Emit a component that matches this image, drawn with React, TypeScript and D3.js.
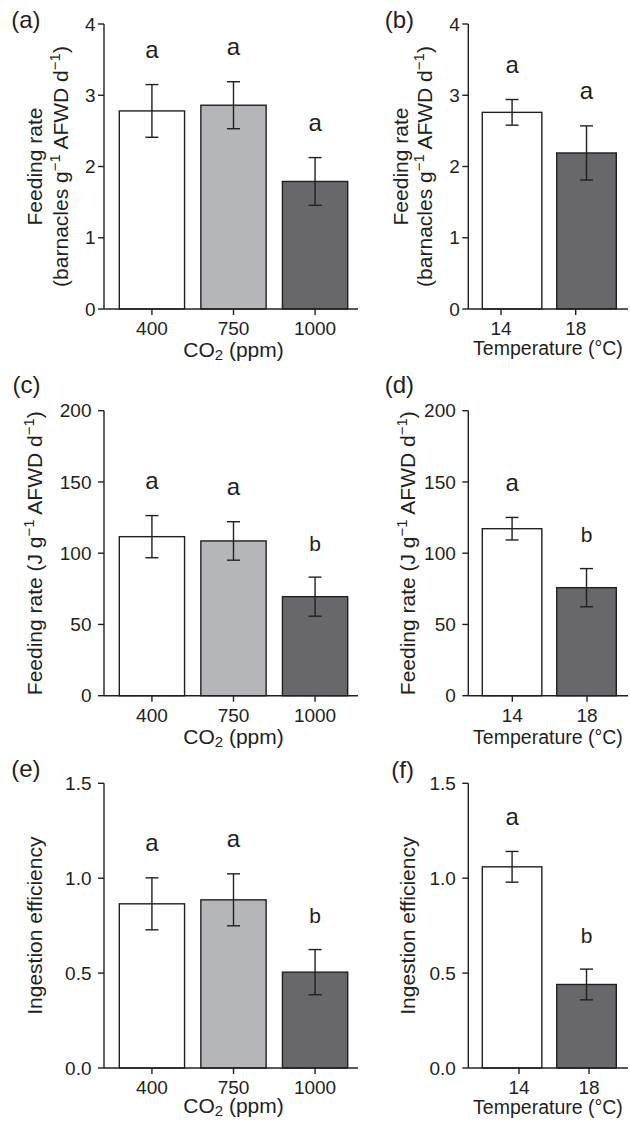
import React from 'react';
import * as d3 from 'd3';

// categories
const co2Levels = ['400', '750', '1000'];
const tempLevels = ['14', '18'];

// (a) feeding rate, barnacles g-1 AFWD d-1
const barnCO2Mean = [2.78, 2.86, 1.79];
const barnCO2Se = [0.37, 0.33, 0.335];
const barnCO2Sig = ['a', 'a', 'a'];
// (b)
const barnTempMean = [2.76, 2.19];
const barnTempSe = [0.18, 0.38];
const barnTempSig = ['a', 'a'];
// (c) feeding rate, J g-1 AFWD d-1
const joulesCO2Mean = [111.6, 108.6, 69.5];
const joulesCO2Se = [14.8, 13.5, 13.7];
const joulesCO2Sig = ['a', 'a', 'b'];
// (d)
const joulesTempMean = [117.2, 75.8];
const joulesTempSe = [7.9, 13.4];
const joulesTempSig = ['a', 'b'];
// (e) ingestion efficiency
const ingestCO2Mean = [0.865, 0.886, 0.505];
const ingestCO2Se = [0.137, 0.137, 0.119];
const ingestCO2Sig = ['a', 'a', 'b'];
// (f)
const ingestTempMean = [1.06, 0.44];
const ingestTempSe = [0.081, 0.081];
const ingestTempSig = ['a', 'b'];

const barnTicks = [0, 1, 2, 3, 4];
const joulesTicks = [0, 50, 100, 150, 200];
const ingestTicks = [0, 0.5, 1.0, 1.5];

const co2Fills = ['#ffffff', '#b5b6b9', '#68676c'];
const tempFills = ['#ffffff', '#68676c'];

// axis label pieces, s = superscript
const barnLabel1 = [{ t: 'Feeding rate' }];
const barnLabel2 = [{ t: '(barnacles g' }, { t: '\u22121', s: true }, { t: ' AFWD d' }, { t: '\u22121', s: true }, { t: ')' }];
const joulesLabel = [{ t: 'Feeding rate (J g' }, { t: '\u22121', s: true }, { t: ' AFWD d' }, { t: '\u22121', s: true }, { t: ')' }];
const ingestLabel = [{ t: 'Ingestion efficiency' }];

const INK = '#231f20';
const FONT = '"Liberation Sans", Arial, Helvetica, sans-serif';

const cols = [
    { axisX: 104, axisEnd: 358, bars: [119.3, 347.7], tagX: 40.5, titleX: 233.5 },
    { axisX: 468.3, axisEnd: 628, bars: [482.3, 616.3], tagX: 414, titleX: 548 },
];
const rows = [
    { top: 24, bottom: 309, tickGap: 8.5 },
    { top: 410.7, bottom: 695.7, tickGap: 12.5 },
    { top: 783.3, bottom: 1068, tickGap: 12.5 },
];

const panels = [
    {
        tag: '(a)', row: 0, col: 0, cats: co2Levels, mean: barnCO2Mean, se: barnCO2Se, sig: barnCO2Sig,
        fills: co2Fills, domain: [0, 4], ticks: barnTicks, fmt: (d) => String(d),
        tagY: 28, titleY: 357, co2: true,
        ylab: [{ x: 34, parts: barnLabel1 }, { x: 60, parts: barnLabel2 }],
    },
    {
        tag: '(b)', row: 0, col: 1, cats: tempLevels, mean: barnTempMean, se: barnTempSe, sig: barnTempSig,
        fills: tempFills, domain: [0, 4], ticks: barnTicks, fmt: (d) => String(d), tickRange: [501, 575.7],
        tagY: 28, titleY: 355,
        ylab: [{ x: 400, parts: barnLabel1 }, { x: 424, parts: barnLabel2 }],
    },
    {
        tag: '(c)', row: 1, col: 0, cats: co2Levels, mean: joulesCO2Mean, se: joulesCO2Se, sig: joulesCO2Sig,
        fills: co2Fills, domain: [0, 200], ticks: joulesTicks, fmt: (d) => String(d),
        tagY: 393, titleY: 744, co2: true,
        ylab: [{ x: 34, parts: joulesLabel }],
    },
    {
        tag: '(d)', row: 1, col: 1, cats: tempLevels, mean: joulesTempMean, se: joulesTempSe, sig: joulesTempSig,
        fills: tempFills, domain: [0, 200], ticks: joulesTicks, fmt: (d) => String(d), tickRange: [512.3, 587],
        tagY: 393, titleY: 744,
        ylab: [{ x: 407, parts: joulesLabel }],
    },
    {
        tag: '(e)', row: 2, col: 0, cats: co2Levels, mean: ingestCO2Mean, se: ingestCO2Se, sig: ingestCO2Sig,
        fills: co2Fills, domain: [0, 1.5], ticks: ingestTicks, fmt: d3.format('.1f'),
        tagY: 777, titleY: 1113, co2: true,
        ylab: [{ x: 34, parts: ingestLabel }],
    },
    {
        tag: '(f)', row: 2, col: 1, cats: tempLevels, mean: ingestTempMean, se: ingestTempSe, sig: ingestTempSig,
        fills: tempFills, domain: [0, 1.5], ticks: ingestTicks, fmt: d3.format('.1f'), tickRange: [519, 589],
        tagY: 778, titleY: 1114,
        ylab: [{ x: 407, parts: ingestLabel }],
    },
];

function Label({ parts }) {
    // superscripts raised with dy, next piece drops back
    return parts.map((p, i) => {
        const prevSup = i > 0 && parts[i - 1].s;
        const dy = p.s ? -6 : prevSup ? 6 : undefined;
        return (
            <tspan key={i} dy={dy} fontSize={p.s ? 15 : undefined}>{p.t}</tspan>
        );
    });
}

function Panel({ p }) {
    const c = cols[p.col];
    const r = rows[p.row];
    const x = d3.scaleBand().domain(p.cats).range(c.bars).paddingInner(0.2).paddingOuter(0);
    const y = d3.scaleLinear().domain(p.domain).range([r.bottom, r.top]);
    const tx = p.tickRange
        ? d3.scalePoint().domain(p.cats).range(p.tickRange)
        : (d) => x(d) + x.bandwidth() / 2;
    const midY = (r.top + r.bottom) / 2;
    const cap = 6.5;

    return (
        <g>
            <text x={c.tagX} y={p.tagY} textAnchor="end" fontSize={24}>{p.tag}</text>

            {p.ylab.map((l, i) => (
                <text key={i} transform={`translate(${l.x},${midY}) rotate(-90)`}
                    textAnchor="middle" dominantBaseline="central" fontSize={21}>
                    <Label parts={l.parts} />
                </text>
            ))}

            {p.cats.map((k, i) => {
                const cx = x(k) + x.bandwidth() / 2;
                const hi = y(p.mean[i] + p.se[i]);
                const lo = y(p.mean[i] - p.se[i]);
                return (
                    <g key={k}>
                        <rect x={x(k)} y={y(p.mean[i])} width={x.bandwidth()} height={y(0) - y(p.mean[i])}
                            fill={p.fills[i]} stroke={INK} strokeWidth={1.4} />
                        <line x1={cx} x2={cx} y1={hi} y2={lo} stroke={INK} strokeWidth={1.4} />
                        <line x1={cx - cap} x2={cx + cap} y1={hi} y2={hi} stroke={INK} strokeWidth={1.4} />
                        <line x1={cx - cap} x2={cx + cap} y1={lo} y2={lo} stroke={INK} strokeWidth={1.4} />
                        <text x={cx} y={hi - 26.5} textAnchor="middle"
                            fontSize={p.sig[i] === 'a' ? 24 : 21}>{p.sig[i]}</text>
                    </g>
                );
            })}

            {/* y axis */}
            <line x1={c.axisX} x2={c.axisX} y1={r.top} y2={r.bottom} stroke={INK} strokeWidth={1.4} />
            {p.ticks.map((t) => (
                <g key={t}>
                    <line x1={c.axisX - 6} x2={c.axisX} y1={y(t)} y2={y(t)} stroke={INK} strokeWidth={1.4} />
                    <text x={c.axisX - r.tickGap} y={y(t)} dy="0.35em" textAnchor="end" fontSize={19}>{p.fmt(t)}</text>
                </g>
            ))}

            {/* x axis */}
            <line x1={c.axisX} x2={c.axisEnd} y1={r.bottom} y2={r.bottom} stroke={INK} strokeWidth={1.4} />
            {p.cats.map((k) => (
                <g key={k}>
                    <line x1={tx(k)} x2={tx(k)} y1={r.bottom} y2={r.bottom + 6} stroke={INK} strokeWidth={1.4} />
                    <text x={tx(k)} y={r.bottom + 26} textAnchor="middle" fontSize={19}>{k}</text>
                </g>
            ))}
            {p.co2 ? (
                <text x={c.titleX} y={p.titleY} textAnchor="middle" fontSize={21}>
                    <tspan>CO</tspan>
                    <tspan fontSize={15} dy={3}>2</tspan>
                    <tspan dy={-3}> (ppm)</tspan>
                </text>
            ) : (
                <text x={c.titleX} y={p.titleY} textAnchor="middle" fontSize={19.5}>Temperature (°C)</text>
            )}
        </g>
    );
}

export default function App() {
    return (
        <div style={{ position: 'absolute', left: 0, top: 0 }}>
            <svg width={630} height={1121} style={{ display: 'block', background: '#fff' }}
                fontFamily={FONT} fill={INK}>
                {panels.map((p) => <Panel key={p.tag} p={p} />)}
            </svg>
        </div>
    );
}
